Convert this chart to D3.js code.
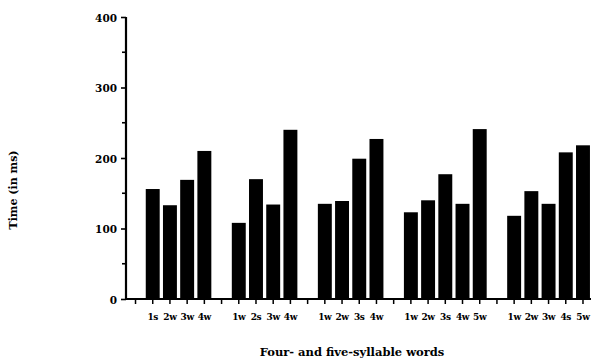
<!DOCTYPE html>
<html><head><meta charset="utf-8">
<script src="https://cdn.jsdelivr.net/npm/d3@7"></script>
<style>
html,body{margin:0;padding:0;background:#fff;}
svg{display:block;}
text{font-family:"DejaVu Serif","Liberation Serif",serif;font-weight:bold;fill:#000;}
</style></head>
<body>
<svg id="chart" width="591" height="360"></svg>
<script>
// Data
const groupLabels = [
  ["1s","2w","3w","4w"],
  ["1w","2s","3w","4w"],
  ["1w","2w","3s","4w"],
  ["1w","2w","3s","4w","5w"],
  ["1w","2w","3w","4s","5w"]
];
const groupValues = [
  [156,133,169,210],
  [108,170,134,240],
  [135,139,199,227],
  [123,140,177,135,241],
  [118,153,135,208,218]
];
const yTicks = [0,100,200,300,400];
const yMinorTicks = [50,150,250,350];
const yTitle = "Time (in ms)";
const xTitle = "Four- and five-syllable words";

// Build slots: an empty slot before each group
const slots = [];
groupLabels.forEach((labs, g) => {
  slots.push({id: "gap" + g, label: "", value: null});
  labs.forEach((l, i) => slots.push({id: g + "-" + i, label: l, value: groupValues[g][i]}));
});

const svg = d3.select("#chart");
const x = d3.scaleBand().domain(slots.map(d => d.id)).range([127, 591.5]).paddingInner(0.19).paddingOuter(0.09);
const y = d3.scaleLinear().domain([0, 400]).range([299, 17]);

// bars
svg.append("g").selectAll("rect").data(slots.filter(d => d.value !== null)).join("rect")
  .attr("x", d => x(d.id)).attr("width", x.bandwidth())
  .attr("y", d => y(d.value)).attr("height", d => y(0) - y(d.value))
  .attr("fill", "#000");

// y axis
const yAxis = svg.append("g").attr("transform", "translate(126,0)")
  .call(d3.axisLeft(y).tickValues(yTicks).tickSize(5).tickPadding(4).tickFormat(d3.format("d")));
yAxis.select(".domain").attr("d", `M0,${y(400)}V${y(0)}`).attr("stroke-width", 2.2);
yAxis.selectAll(".tick line").attr("stroke-width", 1.6);
yAxis.selectAll("text").style("font-size", "10.5px").attr("dy", "0.38em");
svg.append("g").selectAll("line").data(yMinorTicks).join("line")
  .attr("x1", 122).attr("x2", 126).attr("y1", d => y(d)).attr("y2", d => y(d))
  .attr("stroke", "#000").attr("stroke-width", 1.6);

// x axis
const xAxis = svg.append("g").attr("transform", `translate(0,${y(0)})`)
  .call(d3.axisBottom(x).tickSize(5).tickPadding(10).tickFormat(id => slots.find(s => s.id === id).label));
xAxis.select(".domain").attr("d", `M125,0H591`).attr("stroke-width", 2);
xAxis.selectAll(".tick line").attr("stroke-width", 1.5);
xAxis.selectAll("text").style("font-size", "9px").attr("letter-spacing", "-0.4");

// titles
svg.append("text").attr("transform", "translate(17,190) rotate(-90)")
  .attr("text-anchor", "middle").style("font-size", "11px").text(yTitle);
svg.append("text").attr("x", 352).attr("y", 356)
  .attr("text-anchor", "middle").style("font-size", "11.5px").text(xTitle);
</script>
</body></html>
